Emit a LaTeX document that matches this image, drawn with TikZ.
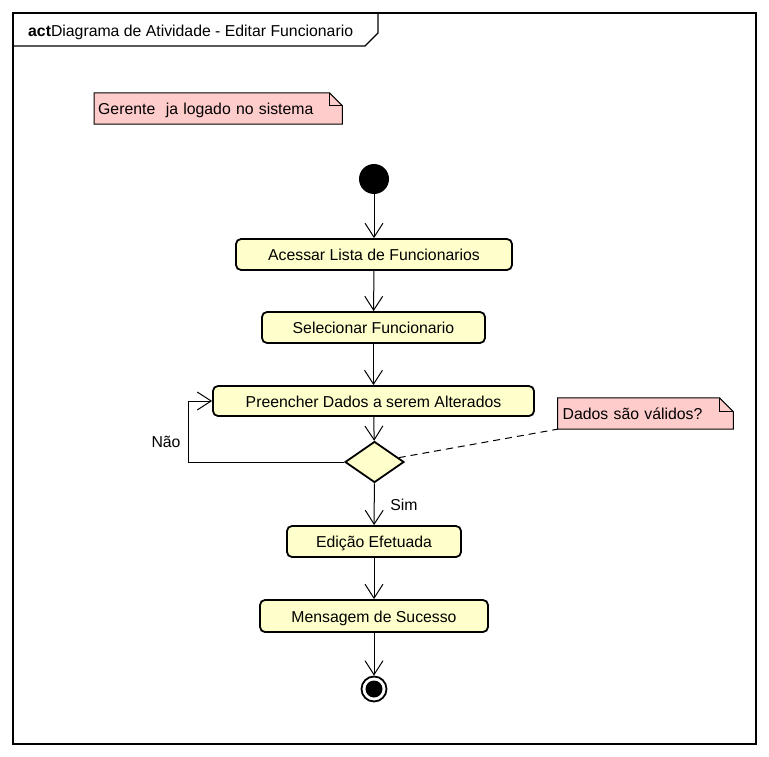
\documentclass[tikz,border=0pt]{standalone}
\usepackage{fontspec}
\setmainfont{Liberation Sans}
\usetikzlibrary{arrows.meta, shapes.geometric, backgrounds}

\definecolor{amarelo}{RGB}{255,255,204}
\definecolor{rosa}{RGB}{255,204,204}

\tikzset{
	texto/.style={font=\fontsize{15.8}{19}\selectfont},
	acao/.style={draw, line width=1.8pt, rounded corners=5pt, fill=amarelo, minimum height=31pt, inner sep=0pt, text height=12.5pt, text depth=0pt, texto},
	decisao/.style={diamond, draw, line width=1.8pt, fill=amarelo, minimum width=59pt, minimum height=41pt, inner sep=0pt},
	nota/.style={anchor=west, minimum height=31pt, inner xsep=4pt, inner ysep=0pt, text height=12.5pt, text depth=0pt, align=left, texto},
	notaborda/.style={draw, line width=1pt, fill=rosa},
	fluxo/.style={line width=1pt, -{Straight Barb[length=14pt,width=18pt]}}
}

\begin{document}
\begin{tikzpicture}[x=1pt, y=-1pt]
	\useasboundingbox (0,0) rectangle (769,757);
	% Frame and title
	\draw[line width=1.4pt] (13,13) rectangle (756,744);
	\draw[line width=1.2pt] (13,46) -- (365,46) -- (378,33) -- (378,13);
	\node[texto, anchor=base west, inner sep=0pt] (titulo) at (28,36.5) {\textbf{act}Diagrama de Atividade - Editar Funcionario};
	% Notes
	\node[nota, text width=240pt] (nota1) at (94,108.5) {Gerente~ ja logado no sistema};
	\node[nota, inner xsep=5pt, text width=165.5pt] (nota2) at (557.5,413.5) {Dados são válidos?};
	\begin{scope}[on background layer]
		\draw[notaborda] (nota1.south west) -- (nota1.north west) -- ([xshift=-13pt]nota1.north east) -- ([yshift=-13pt]nota1.north east) -- (nota1.south east) -- cycle;
		\draw[line width=1pt] ([xshift=-13pt]nota1.north east) |- ([yshift=-13pt]nota1.north east);
		\draw[notaborda] (nota2.south west) -- (nota2.north west) -- ([xshift=-14pt]nota2.north east) -- ([yshift=-14pt]nota2.north east) -- (nota2.south east) -- cycle;
		\draw[line width=1pt] ([xshift=-14pt]nota2.north east) |- ([yshift=-14pt]nota2.north east);
	\end{scope}
	% Activity nodes
	\node[circle, fill=black, minimum size=30pt, inner sep=0pt] (inicio) at (374,179) {};
	\node[acao, minimum width=276pt] (acessar) at (374,254.5) {Acessar Lista de Funcionarios};
	\node[acao, minimum width=223pt] (selecionar) at (373.5,327.5) {Selecionar Funcionario};
	\node[acao, minimum width=321pt, minimum height=30pt] (preencher) at (373.5,401) {Preencher Dados a serem Alterados};
	\node[decisao] (valido) at (374.5,462) {};
	\node[acao, minimum width=174pt] (edicao) at (374,541.5) {Edição Efetuada};
	\node[acao, minimum width=228pt, minimum height=32pt] (mensagem) at (374,616) {Mensagem de Sucesso};
	\node[circle, draw, line width=1.8pt, minimum size=25pt, inner sep=0pt] (fim) at (374,689) {};
	\node[circle, fill=black, minimum size=17pt, inner sep=0pt] (fimdentro) at (fim) {};
	% Flows
	\draw[fluxo] (inicio) -- (acessar);
	\draw[fluxo] (acessar) -- (selecionar);
	\draw[fluxo] (selecionar) -- (preencher);
	\draw[fluxo] (preencher) -- (valido);
	\draw[fluxo] (valido.west) -- ++(-156,0) |- (preencher.west);
	\draw[fluxo] (valido) -- (edicao);
	\draw[fluxo] (edicao) -- (mensagem);
	\draw[fluxo] (mensagem) -- (fim);
	\draw[line width=1pt, dash pattern=on 7pt off 5pt] (valido) -- (nota2.south west);
	% Guard labels
	\node[texto] (nao) at (166,442) {Não};
	\node[texto] (sim) at (404,505) {Sim};
\end{tikzpicture}
\end{document}
